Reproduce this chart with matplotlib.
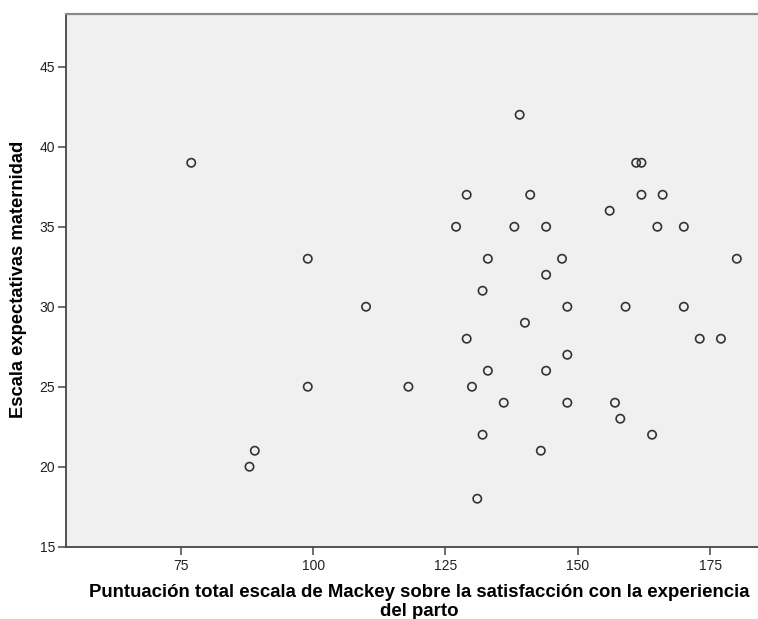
import matplotlib.pyplot as plt

plt.rcParams['font.family'] = ['Liberation Sans', 'DejaVu Sans']

# Mackey total score vs. maternity expectations score, one point per participant
mackey = [77, 99, 110, 139, 161, 162, 129, 141, 162, 166, 156,
          127, 138, 144, 165, 170, 133, 147, 180, 144, 132, 148,
          159, 170, 99, 89, 88, 140, 129, 173, 177, 148, 133, 144,
          118, 130, 136, 148, 157, 158, 132, 164, 143, 131]
expectativas = [39, 33, 30, 42, 39, 39, 37, 37, 37, 37, 36,
                35, 35, 35, 35, 35, 33, 33, 33, 32, 31, 30,
                30, 30, 25, 21, 20, 29, 28, 28, 28, 27, 26, 26,
                25, 25, 24, 24, 24, 23, 22, 22, 21, 18]

x_ticks = [75, 100, 125, 150, 175]
y_ticks = [15, 20, 25, 30, 35, 40, 45]

W, H = 758, 619
fig = plt.figure(figsize=(W / 100, H / 100), dpi=100)
ax = fig.add_axes([65.7 / W, 1 - 546.7 / H, 1 - 65.7 / W, (546.7 - 14) / H])
ax.set_facecolor('#f0f0f0')

ax.scatter(mackey, expectativas, s=36, facecolors='none',
           edgecolors='#333333', linewidths=1.2, zorder=3, clip_on=False)

ax.set_xlim(53.3, 184.0)
ax.set_ylim(15, 48.3)
ax.set_xticks(x_ticks)
ax.set_yticks(y_ticks)
ax.tick_params(axis='both', length=6, width=1.1, color='#444444',
               labelsize=10, labelcolor='#222222', pad=1.5)
ax.tick_params(axis='x', pad=3)

ax.spines['right'].set_visible(False)
ax.spines['top'].set_color('#8a8a8a')
ax.spines['top'].set_linewidth(1.6)
for side in ['left', 'bottom']:
    ax.spines[side].set_color('#444444')
    ax.spines[side].set_linewidth(1.3)

# axis titles
fig.text(19 / W, 1 - 279 / H, 'Escala expectativas maternidad',
         rotation=90, ha='center', va='center', fontsize=13.2, fontweight='bold')
fig.text(419 / W, 1 - 597 / H,
         'Puntuación total escala de Mackey sobre la satisfacción con la experiencia',
         ha='center', va='baseline', fontsize=13.4, fontweight='bold')
fig.text(419 / W, 1 - 616 / H, 'del parto',
         ha='center', va='baseline', fontsize=13.4, fontweight='bold')

fig.savefig('out.png', dpi=100)
